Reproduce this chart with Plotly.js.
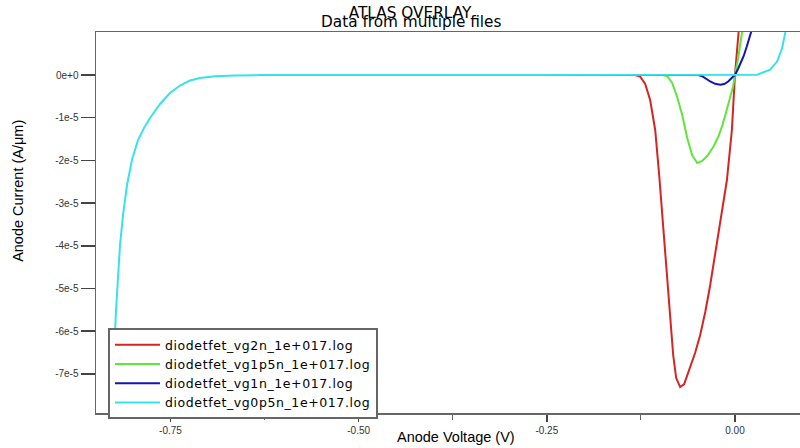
<!DOCTYPE html>
<html>
<head>
<meta charset="utf-8">
<script src="https://cdn.plot.ly/plotly-3.0.1.min.js"></script>
<style>
html,body{margin:0;padding:0;background:#fff;}
#chart{width:800px;height:448px;}
.legendtext{letter-spacing:0.6px;}
</style>
</head>
<body>
<div id="chart"></div>
<script>
// Series names
const seriesNames = [
  "diodetfet_vg2n_1e+017.log",
  "diodetfet_vg1p5n_1e+017.log",
  "diodetfet_vg1n_1e+017.log",
  "diodetfet_vg0p5n_1e+017.log"
];
const seriesColors = ["#d42424", "#5ee63a", "#1414b4", "#38e2ea"];

// Anode voltage (V) and anode current (A/um, in units of 1e-5)
const vg2nV = [-0.60, -0.1326, -0.1260, -0.1193, -0.1127, -0.1060, -0.1007, -0.0954, -0.0888, -0.0821, -0.0781, -0.0728, -0.0675, -0.0595, -0.0528, -0.0462, -0.0395, -0.0329, -0.0223, -0.0107, -0.0041, 0.0, 0.0047, 0.0069];
const vg2nI = [0, 0, -0.035, -0.211, -0.585, -1.288, -2.342, -3.560, -5.105, -6.557, -7.096, -7.307, -7.237, -6.838, -6.500, -6.089, -5.550, -4.918, -3.747, -2.459, -1.288, 0, 0.984, 1.405];

const vg1p5nV = [-0.60, -0.0967, -0.0901, -0.0834, -0.0768, -0.0701, -0.0635, -0.0569, -0.0502, -0.0436, -0.0369, -0.0289, -0.0223, -0.0170, -0.0117, -0.0064, -0.0024, 0.0, 0.0043, 0.0092, 0.0123];
const vg1p5nI = [0, 0, -0.023, -0.187, -0.515, -0.937, -1.475, -1.874, -2.061, -2.014, -1.897, -1.686, -1.452, -1.194, -0.867, -0.515, -0.258, 0, 0.398, 0.984, 1.335];

const vg1nV = [-0.60, -0.0489, -0.0436, -0.0382, -0.0329, -0.0263, -0.0196, -0.0143, -0.0090, -0.0024, 0.0, 0.0043, 0.0083, 0.0116, 0.0158, 0.0189, 0.0216, 0.0242];
const vg1nI = [0, 0, -0.030, -0.094, -0.152, -0.206, -0.227, -0.211, -0.152, -0.035, 0, 0.152, 0.304, 0.445, 0.672, 0.843, 1.007, 1.171];

const vg0p5nV = [-0.8297, -0.8284, -0.8264, -0.8244, -0.8224, -0.8198, -0.8171, -0.8131, -0.8078, -0.8012, -0.7932, -0.7852, -0.7772, -0.7639, -0.7507, -0.7374, -0.7241, -0.7108, -0.6908, -0.6643, -0.6310, -0.50, -0.25, 0.0, 0.0136, 0.0295, 0.0468, 0.0561, 0.0627, 0.0667, 0.0734];
const vg0p5nI = [-8.548, -7.916, -7.143, -6.323, -5.504, -4.684, -3.981, -3.279, -2.576, -1.991, -1.522, -1.241, -1.007, -0.679, -0.422, -0.246, -0.129, -0.070, -0.030, -0.012, -0.002, 0, 0, 0, 0, 0.007, 0.124, 0.321, 0.632, 0.984, 1.405];

// Tick labels
const yTickVals = [0, -1, -2, -3, -4, -5, -6, -7];
const yTickText = ["0e+0", "-1e-5", "-2e-5", "-3e-5", "-4e-5", "-5e-5", "-6e-5", "-7e-5"];
const xTickVals = [-0.75, -0.50, -0.25, 0.00];
const xTickText = ["-0.75", "-0.50", "-0.25", "0.00"];

const scale = 1e-5;
const toA = arr => arr.map(v => v * scale);

const xs = [vg2nV, vg1p5nV, vg1nV, vg0p5nV];
const ys = [vg2nI, vg1p5nI, vg1nI, vg0p5nI];

const traces = xs.map((x, i) => ({
  x: x, y: toA(ys[i]), type: "scatter", mode: "lines",
  name: seriesNames[i],
  line: {color: seriesColors[i], width: 2, shape: "linear"}
}));

const axisFont = {family: "Liberation Sans, Arial, sans-serif", size: 10, color: "#333"};
const titleFont = {family: "Liberation Sans, Arial, sans-serif", size: 14.5, color: "#000"};

const layout = {
  width: 800, height: 448,
  margin: {l: 96, r: 0, t: 32, b: 35},
  paper_bgcolor: "#fff", plot_bgcolor: "#fff",
  showlegend: true,
  title: {
    text: "ATLAS OVERLAY",
    font: {family: "DejaVu Sans, sans-serif", size: 15.3, color: "#000"},
    x: 0.5125, xanchor: "center", xref: "container",
    y: 0.972, yanchor: "middle", yref: "container"
  },
  xaxis: {
    range: [-0.849, 0.0864],
    tickmode: "array", tickvals: xTickVals, ticktext: xTickText,
    ticks: "outside", ticklen: 7, tickwidth: 1.5, tickcolor: "#444",
    minor: {tick0: -0.75, dtick: 0.125, ticks: "outside", ticklen: 5, tickwidth: 1, tickcolor: "#666"},
    showline: true, linecolor: "#666", linewidth: 1.5, mirror: true,
    showgrid: false, zeroline: false,
    tickfont: axisFont,
    title: {text: ""}
  },
  yaxis: {
    range: [-7.915e-5, 1.007e-5],
    tickmode: "array", tickvals: toA(yTickVals), ticktext: yTickText,
    ticks: "outside", ticklen: 14, tickwidth: 1.5, tickcolor: "#444",
    showline: true, linecolor: "#666", linewidth: 1.5, mirror: true,
    showgrid: false, zeroline: false,
    tickfont: axisFont,
    title: {text: ""}
  },
  legend: {
    x: 0.017, y: 0.223, xanchor: "left", yanchor: "top",
    bgcolor: "#fff", bordercolor: "#666", borderwidth: 2,
    font: {family: "DejaVu Sans, sans-serif", size: 12.5, color: "#000"},
    itemwidth: 45, tracegroupgap: 0
  },
  annotations: [
    {text: "Data from multiple files", xref: "paper", yref: "paper", x: 0.447, y: 1.026, xanchor: "center", yanchor: "middle",
     showarrow: false, font: {family: "DejaVu Sans, sans-serif", size: 15.3, color: "#000"}},
    {text: "Anode Voltage (V)", xref: "paper", yref: "paper", x: 0.5114, y: -0.062, xanchor: "center", yanchor: "middle",
     showarrow: false, font: titleFont},
    {text: "Anode Current (A/\u03bcm)", xref: "paper", yref: "paper", x: -0.1108, y: 0.583, xanchor: "center", yanchor: "middle",
     textangle: -90, showarrow: false, font: titleFont}
  ]
};

Plotly.newPlot("chart", traces, layout, {displayModeBar: false, staticPlot: true});
</script>
</body>
</html>
